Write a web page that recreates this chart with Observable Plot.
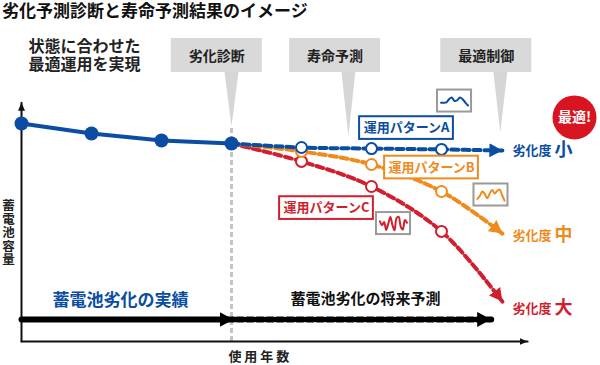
<!DOCTYPE html>
<html><head><meta charset="utf-8">
<script src="https://cdn.jsdelivr.net/npm/d3@7"></script>
<script src="https://cdn.jsdelivr.net/npm/@observablehq/plot@0.6"></script>
<style>
body{margin:0;background:#fff;font-family:'Noto Sans CJK JP',sans-serif;}
#title{height:22px;line-height:22px;font-size:17px;font-weight:bold;padding-left:2px;color:#111;white-space:nowrap;margin-top:-1px;}
</style></head><body>
<div id="title"></div>
<div id="chart"></div>
<script>
// ---------- data ----------
const titleText = "劣化予測診断と寿命予測結果のイメージ";
const actualYears = [0, 1, 2, 3];
const actualCapacity = [100, 95.4, 92.2, 90.8];
const forecastYears = [3, 4, 5, 6, 6.87];
const patternA = [90.8, 89.0, 88.5, 88.1, 87.6];
const patternB = [90.8, 87.2, 81.2, 68.8, 49.5];
const patternC = [90.8, 82.6, 71.1, 50.5, 18.3];
const patternNames = ["運用パターンA", "運用パターンB", "運用パターンC"];
const degradeWord = "劣化度";
const degradeLevels = ["小", "中", "大"];
const stageLabels = ["劣化診断", "寿命予測", "最適制御"];
const leftLines = ["状態に合わせた", "最適運用を実現"];
const waveA = [0.4, 0.4, 0.42, 0.62, 0.72, 0.5, 0.55, 0.72, 0.62, 0.4, 0.22];
const waveB = [0.25, 0.45, 0.72, 0.55, 0.3, 0.6, 0.82, 0.6, 0.75, 0.85, 0.5, 0.15];
const waveC = [0.65, 0.4, 0.6, 0.1, 0.5, 0.92, 0.4, 0.08, 0.85, 0.92, 0.3, 0.12, 0.72, 0.55];
const actualLabel = "蓄電池劣化の実績";
const forecastLabel = "蓄電池劣化の将来予測";
const xLabel = "使 用 年 数";
const yLabel = "蓄電池容量";
const optimalLabel = "最適!";

// ---------- layout (data units: years / capacity) ----------
const colors = {blue: "#0a4da2", orange: "#ef8b1c", red: "#d01f2f", gray: "#d9d9d9"};
const patColors = [colors.blue, colors.orange, colors.red];
const stageCx = [2.79, 4.48, 6.64], stageHalfW = 0.65, stageTop = 139.0, stageBottom = 123.4, stageTextY = 130.5;
const stageTips = [[3.0, 98.6], [4.67, 94.0], [6.84, 95.9]], tipHalf = 0.1;
const patBoxC = [[5.5, 97.9], [5.857, 79.8], [4.357, 61.2]], patHalfW = 0.67, patHalfH = 5.2;
const iconC = [[6.186, 110.3], [6.707, 67.2], [5.314, 54.1]], iconHalfW = 0.243, iconHalfH = 5.05;
const levelY = [87.6, 48.6, 15.1];

document.getElementById("title").textContent = titleText;

function arrowHead(len, half) {
  return (color) => {
    const ns = "http://www.w3.org/2000/svg";
    const m = document.createElementNS(ns, "marker");
    m.setAttribute("viewBox", `${-len} ${-half} ${len} ${2 * half}`);
    m.setAttribute("markerUnits", "userSpaceOnUse");
    m.setAttribute("markerWidth", len);
    m.setAttribute("markerHeight", 2 * half);
    m.setAttribute("orient", "auto");
    m.setAttribute("refX", 0);
    m.setAttribute("refY", 0);
    const p = document.createElementNS(ns, "path");
    p.setAttribute("d", `M${-len},${-half}L0,0L${-len},${half}Z`);
    p.setAttribute("fill", color);
    p.setAttribute("stroke", "none");
    p.setAttribute("stroke-dasharray", "none");
    m.appendChild(p);
    return m;
  };
}

const actual = actualYears.map((t, i) => ({t, v: actualCapacity[i]}));
const series = [patternA, patternB, patternC].map(p => forecastYears.map((t, i) => ({t, v: p[i]})));
const stages = stageLabels.map((s, i) => ({s, cx: stageCx[i], x1: stageCx[i] - stageHalfW, x2: stageCx[i] + stageHalfW}));
const tris = stageTips.flatMap(([tx, ty], k) => [
  {k, t: tx - tipHalf, v: stageBottom + 0.5}, {k, t: tx + tipHalf, v: stageBottom + 0.5}, {k, t: tx, v: ty}
]);
const patBoxes = patternNames.map((n, i) => ({n, c: patColors[i], cx: patBoxC[i][0], cy: patBoxC[i][1]}));
const icons = iconC.map(([cx, cy], i) => ({i, cx, cy}));
const waves = [waveA, waveB, waveC].flatMap((w, i) => w.map((v, j) => ({
  i,
  t: iconC[i][0] - iconHalfW + 0.05 + (2 * iconHalfW - 0.1) * j / (w.length - 1),
  v: iconC[i][1] - iconHalfH + 1.4 + (2 * iconHalfH - 2.8) * v
})));

const marks = [
  Plot.ruleX([3], {y1: 0, y2: 98, stroke: "#c4c4c4", strokeWidth: 3, strokeDasharray: "5,3"}),
  // callouts
  Plot.rect(stages, {x1: "x1", x2: "x2", y1: stageBottom, y2: stageTop, fill: colors.gray}),
  Plot.line(tris, {x: "t", y: "v", z: "k", fill: "#d6d6d6", stroke: "none"}),
  Plot.text(stages, {x: "cx", y: stageTextY, text: "s", fontSize: 14, fontWeight: "bold", fill: "#222"}),
  Plot.text(leftLines, {x: 0.1, y: (d, i) => [135.3, 126.8][i], text: d => d, textAnchor: "start", fontSize: 16, fontWeight: "bold", fill: "#222"}),
  // axes
  Plot.line([{t: 0, v: 0}, {t: 0, v: 109.5}], {x: "t", y: "v", stroke: "#111", strokeWidth: 2, markerEnd: arrowHead(8, 3.5)}),
  Plot.line([{t: 0, v: 0}, {t: 7.23, v: 0}], {x: "t", y: "v", stroke: "#111", strokeWidth: 2, markerEnd: arrowHead(8, 3.5)}),
  Plot.text([xLabel], {x: 3.39, y: -6.9, text: d => d, fontSize: 13, fontWeight: "bold", fill: "#222"}),
  Plot.text([yLabel], {x: -0.186, y: 51.5, text: d => d, fontSize: 12.5, fontWeight: "bold", fill: "#222", className: "ylabel"}),
  // forecast lines (C, B, A)
  ...[2, 1, 0].map(i => Plot.line(series[i], {x: "t", y: "v", stroke: patColors[i], strokeWidth: 4, strokeDasharray: "7,4", curve: "catmull-rom", markerEnd: arrowHead(13, 7)})),
  ...[2, 1, 0].map(i => Plot.dot(series[i].slice(1, 4), {x: "t", y: "v", r: 5.5, fill: "white", stroke: patColors[i], strokeWidth: 2})),
  // actual
  Plot.line(actual, {x: "t", y: "v", stroke: colors.blue, strokeWidth: 4}),
  Plot.dot(actual, {x: "t", y: "v", r: 7, fill: colors.blue}),
  // pattern labels
  Plot.rect(patBoxes, {x1: d => d.cx - patHalfW, x2: d => d.cx + patHalfW, y1: d => d.cy - patHalfH, y2: d => d.cy + patHalfH, fill: "white", stroke: "c", strokeWidth: 2}),
  Plot.text(patBoxes, {x: "cx", y: "cy", text: "n", fill: "c", fontSize: 13, fontWeight: "bold"}),
  // icons
  Plot.rect(icons, {x1: d => d.cx - iconHalfW, x2: d => d.cx + iconHalfW, y1: d => d.cy - iconHalfH, y2: d => d.cy + iconHalfH, fill: "white", stroke: "#9a9a9a", strokeWidth: 2}),
  Plot.line(waves, {x: "t", y: "v", z: "i", stroke: d => patColors[d.i], strokeWidth: 2, curve: "catmull-rom"}),
  // optimal badge
  Plot.dot([0], {x: 7.9, y: 102.8, r: 22, fill: "#d7141f"}),
  Plot.text([optimalLabel], {x: 7.9, y: 102.8, text: d => d, fill: "white", fontSize: 14, fontWeight: "bold"}),
  // degradation levels
  Plot.text(degradeLevels, {x: 7.014, y: (d, i) => levelY[i], text: () => degradeWord, textAnchor: "start", fontSize: 13, fontWeight: "bold", fill: (d, i) => patColors[i]}),
  Plot.text(degradeLevels, {x: 7.743, y: (d, i) => levelY[i], text: d => d, fontSize: 18, fontWeight: "bold", fill: (d, i) => patColors[i]}),
  // bottom arrows and labels
  Plot.line([{t: 0, v: 10.1}, {t: 3.03, v: 10.1}], {x: "t", y: "v", stroke: "#000", strokeWidth: 6, markerEnd: arrowHead(14, 7.5)}),
  Plot.line([{t: 3.08, v: 10.1}, {t: 6.71, v: 10.1}], {x: "t", y: "v", stroke: "#000", strokeWidth: 6, strokeDasharray: "6,4", markerEnd: arrowHead(14, 7.5)}),
  Plot.text([actualLabel], {x: 1.414, y: 18.8, text: d => d, fill: colors.blue, fontSize: 17, fontWeight: "bold"}),
  Plot.text([forecastLabel], {x: 4.914, y: 19.3, text: d => d, fill: "#111", fontSize: 15, fontWeight: "bold"})
];

const chart = Plot.plot({
  width: 600,
  height: 343,
  marginLeft: 21,
  marginRight: 19,
  marginTop: 102,
  marginBottom: 23,
  x: {domain: [0, 8], axis: null},
  y: {domain: [0, 100], axis: null},
  color: {type: "identity"},
  style: {fontFamily: "'Noto Sans CJK JP', sans-serif", background: "white", overflow: "visible"},
  marks
});
// upright vertical writing for the y-axis label
d3.select(chart).selectAll("text").filter(function () { return this.textContent === yLabel; })
  .attr("dy", null)
  .style("writing-mode", "vertical-rl")
  .style("text-orientation", "upright")
  .style("letter-spacing", "1px");
document.getElementById("chart").appendChild(chart);
</script>
</body></html>
